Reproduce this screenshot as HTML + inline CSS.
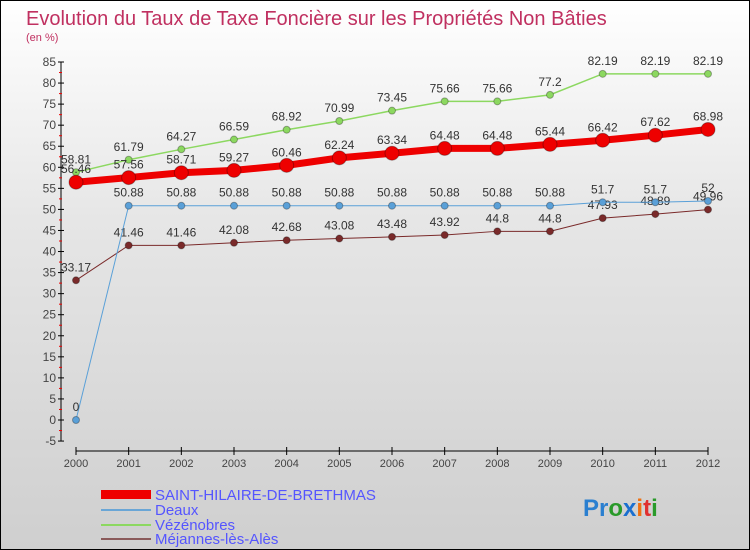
<!DOCTYPE html>
<html><head><meta charset="utf-8"><style>
body{margin:0}
#c{width:750px;height:550px;position:relative;box-sizing:border-box;border:1px solid #000;background:linear-gradient(#fff,#e6e6e6 40%,#cfcfcf);font-family:"Liberation Sans",sans-serif;overflow:hidden}
</style></head><body>
<div id="c">
<svg id="s" width="750" height="550" style="position:absolute;left:0;top:0">
<text x="25" y="24" font-size="20" fill="#c03060">Evolution du Taux de Taxe Foncière sur les Propriétés Non Bâties</text>
<text x="25" y="40" font-size="11" fill="#c03060">(en %)</text>
<g id="ax"></g><g id="ser"></g>
<g>
<rect x="100" y="489" width="50" height="9" fill="#e00"/>
<text x="154" y="499" font-size="15" fill="#55f">SAINT-HILAIRE-DE-BRETHMAS</text>
<rect x="100" y="508" width="50" height="2" fill="#6aa6d6"/>
<text x="154" y="514" font-size="15" fill="#55f">Deaux</text>
<rect x="100" y="523" width="50" height="2" fill="#8cd860"/>
<text x="154" y="529" font-size="15" fill="#55f">Vézénobres</text>
<rect x="100" y="537" width="50" height="2" fill="#8a5a5a"/>
<text x="154" y="543" font-size="15" fill="#55f">Méjannes-lès-Alès</text>
</g>
<text x="582" y="515" font-size="24" font-weight="bold"><tspan fill="#2a7fd0">Pr</tspan><tspan fill="#2a9a2a">o</tspan><tspan fill="#1a6fd0">x</tspan><tspan fill="#f07010">i</tspan><tspan fill="#e03030">t</tspan><tspan fill="#2a9a2a">i</tspan></text>
</svg>
</div>
<script>
const years=[2000,2001,2002,2003,2004,2005,2006,2007,2008,2009,2010,2011,2012];
const yTicks=[-5,0,5,10,15,20,25,30,35,40,45,50,55,60,65,70,75,80,85];
const sh=[56.46,57.56,58.71,59.27,60.46,62.24,63.34,64.48,64.48,65.44,66.42,67.62,68.98];
const deaux=[0,50.88,50.88,50.88,50.88,50.88,50.88,50.88,50.88,50.88,51.7,51.7,52];
const vez=[58.81,61.79,64.27,66.59,68.92,70.99,73.45,75.66,75.66,77.2,82.19,82.19,82.19];
const mej=[33.17,41.46,41.46,42.08,42.68,43.08,43.48,43.92,44.8,44.8,47.93,48.89,49.96];
const NS="http://www.w3.org/2000/svg";
const X=i=>75+i*(707-75)/12, Y=v=>419-v*(419-61)/85;
function mk(p,t,a){const e=document.createElementNS(NS,t);for(const k in a)e.setAttribute(k,a[k]);p.appendChild(e);return e;}
const ax=document.getElementById('ax');
let e=mk(ax,'line',{x1:60,y1:Y(85),x2:60,y2:Y(-5),stroke:'#000'});


e=mk(ax,'line',{x1:X(0),y1:450,x2:X(12),y2:450,stroke:'#000'});


yTicks.forEach(v=>{
 mk(ax,'line',{x1:57,y1:Y(v),x2:63,y2:Y(v),stroke:'#000'});
 mk(ax,'line',{x1:58,y1:Y(v+2.5),x2:61,y2:Y(v+2.5),stroke:v<85?'#e00':'none'});
 const t=mk(ax,'text',{x:55,y:Y(v)+4,'font-size':12,fill:'#444','text-anchor':'end'});t.textContent=v;
 
 
});
years.forEach((yr,i)=>{
 mk(ax,'line',{x1:X(i),y1:446,x2:X(i),y2:454,stroke:'#000'});
 const t=mk(ax,'text',{x:X(i),y:466,'font-size':11,fill:'#444','text-anchor':'middle'});t.textContent=yr;
 
 
});
const ser=document.getElementById('ser');
function draw(d,col,w,r,name){
 const g=mk(ser,'g',{});
 
 
 mk(g,'polyline',{points:d.map((v,i)=>X(i)+','+Y(v)).join(' '),fill:'none',stroke:col,'stroke-width':w});
 d.forEach((v,i)=>{
  const c=mk(g,'circle',{cx:X(i),cy:Y(v),r:r,fill:col,stroke:'rgba(0,0,0,0.3)'});
  
  
  const t=mk(g,'text',{x:X(i),y:Y(v)-9,'font-size':12,fill:'#333','text-anchor':'middle'});t.textContent=v;
  
  
 });
}
draw(mej,'#7a2a2a',1,3.5,'series-mejannes');
draw(deaux,'#5aa0d8',1,3.5,'series-deaux');
draw(vez,'#8cd860',1.5,3.5,'series-vezenobres');
draw(sh,'#e00',7,7,'series-saint-hilaire');
</script>
</body></html>
